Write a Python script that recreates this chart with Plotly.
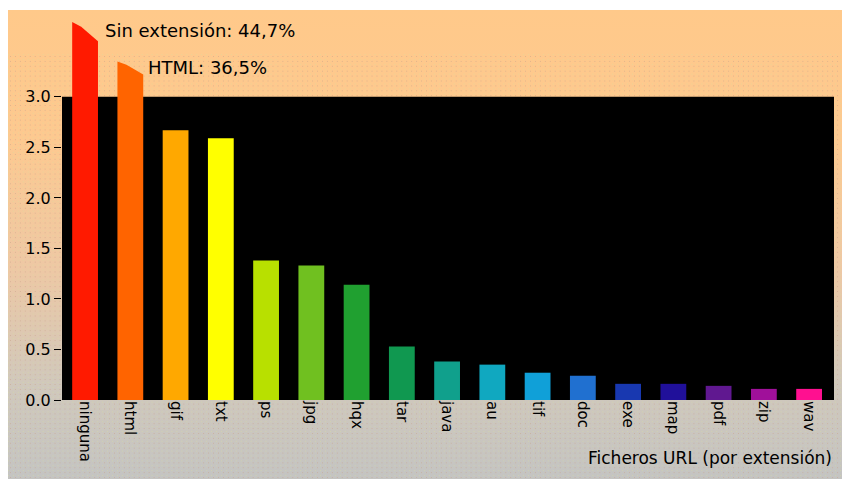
import base64
import plotly.graph_objects as go

# ---- data ----
categories = ["ninguna", "html", "gif", "txt", "ps", "jpg", "hqx", "tar", "java",
              "au", "tif", "doc", "exe", "map", "pdf", "zip", "wav"]
values = [44.7, 36.5, 2.67, 2.59, 1.38, 1.33, 1.14, 0.53, 0.38,
          0.35, 0.27, 0.24, 0.16, 0.16, 0.14, 0.11, 0.11]
# heights at which the two off-scale bars are drawn (broken bars)
broken_display = [3.74, 3.35]
broken_slant = [0.19, 0.13]
broken_labels = ["Sin extensión: 44,7%", "HTML: 36,5%"]
colors = ["#FF1A00", "#FF6400", "#FFA800", "#FFFF00", "#B8E000", "#70C020", "#20A030",
          "#109850", "#10A08C", "#10A8C0", "#10A0D8", "#2070D0", "#1838B0", "#20109A",
          "#601890", "#A0109A", "#FF1090"]
y_ticks = [0.0, 0.5, 1.0, 1.5, 2.0, 2.5, 3.0]
y_max_scale = 3.0
x_title = "Ficheros URL (por extensión)"

W, H = 842, 479
bar_w = 0.57

FONT = "DejaVu Sans"

# background svg (gradient peach -> gray, with dot pattern)
svg = f'''<svg xmlns="http://www.w3.org/2000/svg" width="{W}" height="{H}">
<defs>
<linearGradient id="g" x1="0" y1="0" x2="0" y2="1">
<stop offset="0" stop-color="#FFC98A"/>
<stop offset="0.28" stop-color="#FDC990"/>
<stop offset="0.55" stop-color="#EEC8A4"/>
<stop offset="0.8" stop-color="#D0C8BC"/>
<stop offset="1" stop-color="#C4C4C2"/>
</linearGradient>
<pattern id="p" width="5" height="5" patternUnits="userSpaceOnUse">
<rect x="2" y="2" width="1" height="1" fill="#C8A08A" opacity="0.55"/>
<rect x="0" y="0" width="1" height="1" fill="#D8E0A0" opacity="0.5"/>
</pattern>
</defs>
<rect x="0" y="0" width="{W}" height="{H}" fill="url(#g)"/>
<rect x="0" y="45" width="{W}" height="{H-45}" fill="url(#p)"/>
</svg>'''
svg_uri = "data:image/svg+xml;base64," + base64.b64encode(svg.encode()).decode()

n_broken = len(broken_display)
idx = list(range(len(categories)))

fig = go.Figure()

# regular bars
fig.add_trace(go.Bar(
    x=idx[n_broken:], y=values[n_broken:], width=bar_w,
    marker=dict(color=colors[n_broken:], line=dict(width=0)),
    hoverinfo="skip", cliponaxis=False,
))

# broken (off-scale) bars drawn as polygons with slanted tops
for i in range(n_broken):
    h = broken_display[i]
    s = broken_slant[i]
    xl, xr = i - bar_w / 2, i + bar_w / 2
    fig.add_trace(go.Scatter(
        x=[xl, xl, xl + bar_w * 0.35, xr, xr, xl],
        y=[0, h, h - s * 0.25, h - s, 0, 0],
        fill="toself", fillcolor=colors[i], mode="lines",
        line=dict(width=0, color=colors[i]), hoverinfo="skip",
        cliponaxis=False,
    ))

annotations = []
label_offsets = [(0.4, -0.08), (0.35, -0.06)]
for i in range(n_broken):
    annotations.append(dict(
        x=i + label_offsets[i][0], y=broken_display[i] + label_offsets[i][1],
        xref="x", yref="y", text=broken_labels[i], showarrow=False,
        xanchor="left", yanchor="middle",
        font=dict(family=FONT, size=18, color="#000000"),
    ))
annotations.append(dict(
    x=1.0, y=-0.15, xref="paper", yref="paper", text=x_title, showarrow=False,
    xanchor="right", yanchor="middle",
    font=dict(family=FONT, size=17, color="#000000"),
))

fig.update_layout(
    width=W, height=H,
    margin=dict(l=62, r=8, t=15, b=79),
    paper_bgcolor="white",
    plot_bgcolor="rgba(0,0,0,0)",
    showlegend=False,
    bargap=0.43,
    images=[dict(source=svg_uri, xref="paper", yref="paper",
                 x=-54 / 772, y=1 + 5 / 385, sizex=834 / 772, sizey=469 / 385,
                 xanchor="left", yanchor="top", sizing="stretch", layer="below")],
    shapes=[dict(type="rect", xref="paper", yref="y", x0=0, x1=1, y0=0, y1=y_max_scale,
                 fillcolor="black", line=dict(width=0), layer="below")],
    annotations=annotations,
    xaxis=dict(
        range=[-0.51, 16.55], tickmode="array", tickvals=idx, ticktext=categories,
        tickangle=90, showgrid=False, zeroline=False, showline=False, ticks="",
        tickfont=dict(family=FONT, size=15, color="#000000"),
        fixedrange=True,
    ),
    yaxis=dict(
        range=[0, 3.81], tickmode="array", tickvals=y_ticks,
        ticktext=[f"{v:.1f}" for v in y_ticks],
        showgrid=False, zeroline=False, showline=False,
        ticks="outside", ticklen=7, tickcolor="#000000", tickwidth=1,
        tickfont=dict(family=FONT, size=16, color="#000000"),
        fixedrange=True,
    ),
)

fig.write_html("out.html")
